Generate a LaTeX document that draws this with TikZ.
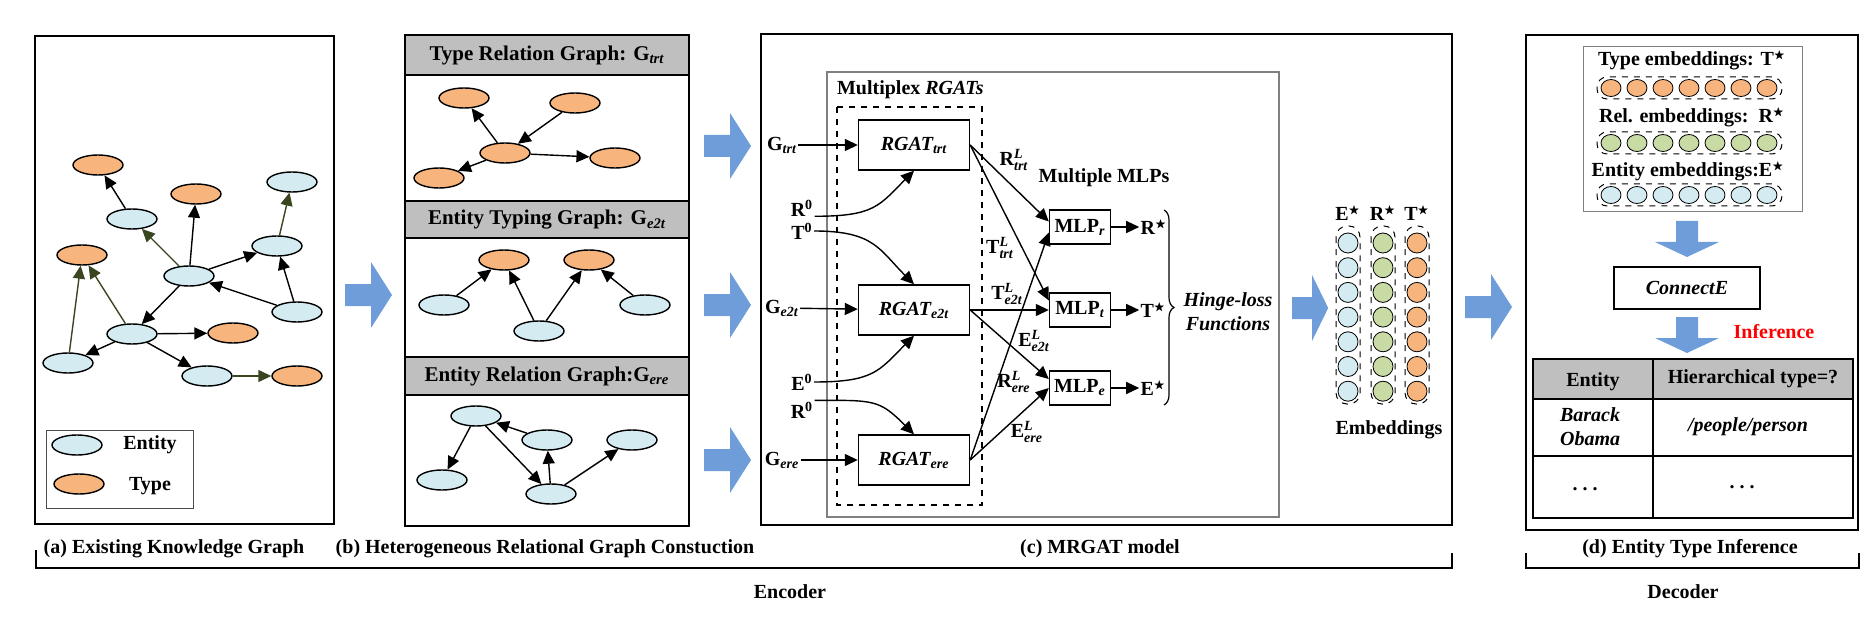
\documentclass[tikz,border=0pt]{standalone}
\usepackage{amsmath}
\usepackage{amssymb}
\usepackage{fontspec}
\setmainfont{Liberation Serif}
\usetikzlibrary{arrows.meta,shapes.geometric,positioning,decorations.pathreplacing}

\definecolor{entblue}{HTML}{D3EBF1}
\definecolor{typorange}{HTML}{F7B47C}
\definecolor{relgreen}{HTML}{C9DBA5}
\definecolor{kgolive}{HTML}{39461F}
\definecolor{bigblue}{HTML}{6F9DDA}
\definecolor{hdgray}{HTML}{BFBFBF}

\newcommand{\emstar}{\ensuremath{^{\scalebox{0.8}{$\scriptstyle\bigstar$}}}}

\begin{document}
\begin{tikzpicture}[x=0.5pt,y=-0.5pt,font=\bfseries,
   ent/.style={ellipse,draw,line width=0.7pt,fill=entblue,minimum width=25pt,minimum height=10pt,inner sep=0pt},
   typ/.style={ent,fill=typorange},
   arr/.style={-{Triangle[length=6.5pt,width=6pt]},line width=0.7pt},
   garr/.style={arr,kgolive},
   box/.style={draw,line width=0.7pt,inner sep=0pt},
   panel/.style={line width=0.8pt},
   head/.style={font=\fontsize{10.5}{12}\selectfont\bfseries},
   emdot/.style={circle,draw,line width=0.4pt,minimum size=10pt,inner sep=0pt},
   rowdot/.style={ellipse,draw,line width=0.4pt,minimum width=10pt,minimum height=8.5pt,inner sep=0pt},
   lbl/.style={inner sep=0.5pt},
   rarrow/.pic={\fill[bigblue] (0,-11) -- (26,-11) -- (26,-33) -- (47,0) -- (26,33) -- (26,11) -- (0,11) -- cycle;},
   darrow/.pic={\fill[bigblue] (-11,0) -- (-11,21) -- (-32,21) -- (0,36) -- (32,21) -- (11,21) -- (11,0) -- cycle;}]
   \useasboundingbox (0,0) rectangle (1876,642);

   % (a) existing knowledge graph
   \draw[panel] (35,36) rectangle (334,524);
   \node[typ] (t_1) at (98,165) {};
   \node[ent] (e_1) at (132,219) {};
   \node[typ] (t_2) at (196,194) {};
   \node[ent] (e_2) at (292,182) {};
   \node[typ] (t_3) at (82,255) {};
   \node[ent] (e_3) at (277,246) {};
   \node[ent] (e_4) at (189,276) {};
   \node[ent] (e_5) at (297,312) {};
   \node[ent] (e_6) at (132,334) {};
   \node[typ] (t_4) at (233,333) {};
   \node[ent] (e_7) at (68,363) {};
   \node[ent] (e_8) at (207,376) {};
   \node[typ] (t_5) at (297,376) {};
   \path[arr]
   (e_1) edge (t_1)
   (e_4) edge (t_2)
         edge (e_3)
         edge (e_6)
   (e_5) edge (e_3)
         edge (e_4)
   (e_6) edge (e_7)
         edge (t_4)
         edge (e_8);
   \path[garr]
   (e_4) edge (e_1)
   (e_3) edge (e_2)
   (e_6) edge (t_3)
   (e_7) edge (t_3)
   (e_8) edge (t_5);
   \draw[line width=0.5pt,black!70] (46,430) rectangle (193,508);
   \node[ent] (leg_e) at (77,445) {};
   \node (leg_et) at (150,445) {Entity};
   \node[typ] (leg_t) at (79,484) {};
   \node (leg_tt) at (150,486) {Type};

   \pic at (345,295) {rarrow};

   % (b) heterogeneous relational graphs
   \foreach \ya/\yb in {35/75,201/238,357/395}
      \draw[panel,fill=hdgray] (405,\ya) rectangle (689,\yb);
   \draw[panel] (405,35) rectangle (689,526);
   \node[head] (h_trt) at (547,55) {Type Relation Graph: G\textsubscript{\itshape trt}};
   \node[head] (h_e2t) at (547,220) {Entity Typing Graph: G\textsubscript{\itshape e2t}};
   \node[head] (h_ere) at (547,376) {Entity Relation Graph:G\textsubscript{\itshape ere}};

   \node[typ] (q_a) at (464,98) {};
   \node[typ] (q_b) at (575,103) {};
   \node[typ] (q_c) at (505,153) {};
   \node[typ] (q_d) at (439,178) {};
   \node[typ] (q_f) at (615,158) {};
   \path[arr]
   (q_c) edge (q_a)
         edge (q_d)
         edge (q_f)
   (q_b) edge (q_c);

   \node[typ] (o_1) at (504,260) {};
   \node[typ] (o_2) at (589,260) {};
   \node[ent] (b_1) at (444,305) {};
   \node[ent] (b_2) at (539,331) {};
   \node[ent] (b_3) at (645,305) {};
   \path[arr]
   (b_1) edge (o_1)
   (b_2) edge (o_1)
         edge (o_2)
   (b_3) edge (o_2);

   \node[ent] (n_1) at (476,416) {};
   \node[ent] (n_2) at (547,440) {};
   \node[ent] (n_3) at (632,440) {};
   \node[ent] (n_4) at (442,480) {};
   \node[ent] (n_5) at (551,494) {};
   \path[arr]
   (n_1) edge (n_4)
         edge (n_5)
   (n_2) edge (n_1)
   (n_5) edge (n_2)
         edge (n_3);

   \foreach \y in {146,305,460}
      \pic at (704,\y) {rarrow};

   % (c) MRGAT model
   \draw[panel] (761,34) rectangle (1452,525);
   \draw[gray,line width=0.6pt] (827,72) rectangle (1279,517);
   \draw[dashed,line width=0.6pt] (837,107) rectangle (982,505);
   \node[anchor=west] (mul) at (830,90) {Multiplex \textit{RGATs}};

   \node[box,minimum width=55.5pt,minimum height=25pt] (r_trt) at (914,145) {\itshape RGAT\textsubscript{trt}};
   \node[box,minimum width=55.5pt,minimum height=25pt] (r_e2t) at (914,310) {\itshape RGAT\textsubscript{e2t}};
   \node[box,minimum width=55.5pt,minimum height=25pt] (r_ere) at (914,460) {\itshape RGAT\textsubscript{ere}};

   \node[lbl] (g_trt) at (782,145) {G\textsubscript{\itshape trt}};
   \node[lbl] (g_e2t) at (782,308) {G\textsubscript{\itshape e2t}};
   \node[lbl] (g_ere) at (782,460) {G\textsubscript{\itshape ere}};
   \draw[arr] (g_trt) -- (r_trt);
   \draw[arr] (g_e2t) -- (r_e2t);
   \draw[arr] (g_ere) -- (r_ere);

   \node[lbl] (r0_a) at (802,208) {R\textsuperscript{0}};
   \node[lbl] (t0_a) at (802,231) {T\textsuperscript{0}};
   \node[lbl] (e0_b) at (802,382) {E\textsuperscript{0}};
   \node[lbl] (r0_b) at (802,410) {R\textsuperscript{0}};
   \draw[arr] (r0_a.base east) .. controls +(60,0) and +(-35,35) .. (r_trt.south);
   \draw[arr] (t0_a.east) .. controls +(60,0) and +(-35,-35) .. (r_e2t.north);
   \draw[arr] (e0_b.east) .. controls +(60,0) and +(-35,35) .. (r_e2t.south);
   \draw[arr] (r0_b.north east) .. controls +(60,0) and +(-35,-35) .. (r_ere.north);

   \node[box,minimum width=30.5pt,minimum height=17pt] (m_r) at (1080,227) {MLP\textsubscript{\itshape r}};
   \node[box,minimum width=30.5pt,minimum height=17pt] (m_t) at (1080,310) {MLP\textsubscript{\itshape t}};
   \node[box,minimum width=30.5pt,minimum height=17pt] (m_e) at (1080,388) {MLP\textsubscript{\itshape e}};
   \draw[arr] (r_trt.east) -- (m_r.170);
   \draw[arr] (r_trt.east) -- (m_t.163);
   \draw[arr] (r_e2t.east) -- (m_t.west);
   \draw[arr] (r_e2t.east) -- (m_e.164);
   \draw[arr] (r_ere.east) -- (m_r.190);
   \draw[arr] (r_ere.east) -- (m_e.west);
   \node[lbl] (l_rtrt) at (1014,160) {R$^{\textit{L}}_{\textit{trt}}$};
   \node[lbl] (l_ttrt) at (1000,248) {T$^{\textit{L}}_{\textit{trt}}$};
   \node[lbl] (l_te2t) at (1007,294) {T$^{\textit{L}}_{\textit{e2t}}$};
   \node[lbl] (l_ee2t) at (1034,341) {E$^{\textit{L}}_{\textit{e2t}}$};
   \node[lbl] (l_rere) at (1014,382) {R$^{\textit{L}}_{\textit{ere}}$};
   \node[lbl] (l_eere) at (1027,432) {E$^{\textit{L}}_{\textit{ere}}$};
   \node[inner sep=0pt] (mlps) at (1104,178) {Multiple MLPs};

   \node[lbl,right=14pt of m_r] (s_r) {R\emstar};
   \node[lbl,right=14pt of m_t] (s_t) {T\emstar};
   \node[lbl,right=14pt of m_e] (s_e) {E\emstar};
   \draw[arr] (m_r) -- (s_r);
   \draw[arr] (m_t) -- (s_t);
   \draw[arr] (m_e) -- (s_e);
   \draw[decorate,decoration={brace,amplitude=5pt},line width=0.6pt] (1164,210) -- (1164,405);
   \node[align=center,font=\bfseries\itshape] (hinge) at (1228,312) {Hinge-loss\\Functions};

   \pic[xscale=0.77] at (1292,308) {rarrow};

   % embeddings
   \foreach \x/\c/\n in {1348/entblue/E,1383/relgreen/R,1417/typorange/T} {
      \node[lbl] (emb_\n) at (\x,213) {\n\emstar};
      \draw[dashed,line width=0.5pt,rounded corners=5.5pt] (\x-12,226) rectangle (\x+12,404);
      \foreach \i in {0,...,6}
         \node[emdot,fill=\c] (d_\n\i) at (\x,243+24.7*\i) {};
   }
   \node (embtxt) at (1389,430) {Embeddings};

   \pic at (1465,307) {rarrow};

   % (d) entity type inference
   \draw[panel] (1526,35) rectangle (1858,530);
   \draw[gray,line width=0.5pt] (1583,47) rectangle (1802,212);
   \node (lab_t) at (1692,60) {Type embeddings: T\emstar};
   \node (lab_r) at (1692,117) {Rel. embeddings:\ \ R\emstar};
   \node (lab_e) at (1688,171) {Entity embeddings:E\emstar};
   \foreach \y/\c/\n in {88/typorange/t,143/relgreen/r,195/entblue/e} {
      \draw[dashed,line width=0.5pt,rounded corners=5pt] (1597,\y-11) rectangle (1782,\y+11);
      \foreach \i in {0,...,6}
         \node[rowdot,fill=\c] (w_\n\i) at (1611+26*\i,\y) {};
   }
   \pic at (1687,221) {darrow};
   \node[box,minimum width=73pt,minimum height=21pt,font=\bfseries\itshape] (conn) at (1687,288) {ConnectE};
   \pic at (1687,317) {darrow};
   \node[text=red] (infer) at (1774,332) {Inference};

   \draw[line width=0.8pt,fill=hdgray] (1533,359) rectangle (1853,399);
   \draw[line width=0.8pt] (1533,359) rectangle (1853,518);
   \draw[line width=0.8pt] (1533,456) -- (1853,456);
   \draw[line width=0.8pt] (1653,359) -- (1653,518);
   \node (c_ent) at (1593,382) {Entity};
   \node (c_typ) at (1753,379) {Hierarchical type=?};
   \node[align=left,anchor=west,font=\bfseries\itshape] (c_obama) at (1553,427) {Barack\\Obama};
   \node[font=\bfseries\itshape] (c_person) at (1748,427) {/people/person};
   \node (c_dots1) at (1585,489) {.\hspace{2.5pt}.\hspace{2.5pt}.};
   \node (c_dots2) at (1742,487) {.\hspace{2.5pt}.\hspace{2.5pt}.};

   % captions and brackets
   \node (cap_a) at (174,549) {(a) Existing Knowledge Graph};
   \node (cap_b) at (545,549) {(b) Heterogeneous Relational Graph Constuction};
   \node (cap_c) at (1100,549) {(c) MRGAT model};
   \node (cap_d) at (1690,549) {(d) Entity Type Inference};
   \draw[line width=0.8pt] (36,550) -- (36,568) -- (1452,568) -- (1452,553);
   \draw[line width=0.8pt] (1526,553) -- (1526,568) -- (1859,568) -- (1859,553);
   \node (enc) at (790,592) {Encoder};
   \node (dec) at (1683,592) {Decoder};
\end{tikzpicture}
\end{document}
